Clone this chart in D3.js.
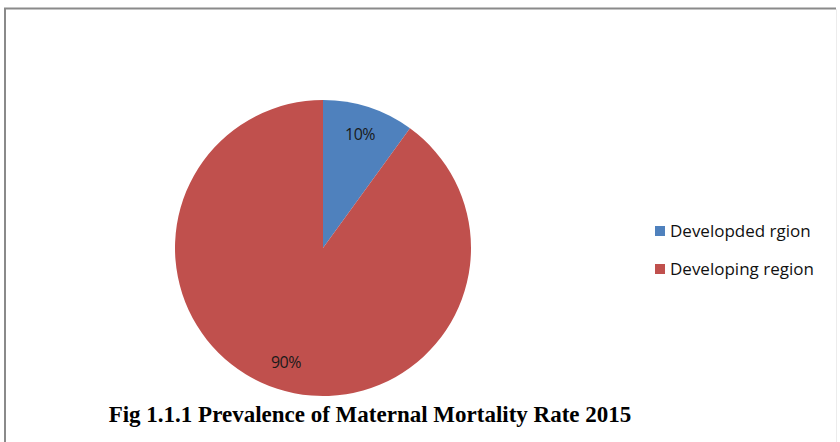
<!DOCTYPE html>
<html>
<head>
<meta charset="utf-8">
<script src="https://cdn.jsdelivr.net/npm/d3@7"></script>
<style>
body { margin: 0; background: #fff; }
</style>
</head>
<body>
<script>
// data
var regions = ["Developded rgion", "Developing region"];
var shares = [10, 90];
var labels = ["10%", "90%"];
var colors = ["#4f81bd", "#c0504d"];

var w = 840;
var h = 442;
var cx = 323, cy = 248, r = 148;

var svg = d3.select("body")
.append("svg")
.attr("width", w)
.attr("height", h);

// frame: darker top / left, very faint right
svg.append("path")
.attr("d", "M5,442 L5,8.5 L836,8.5")
.attr("fill", "none")
.attr("stroke", "#8a8a8a")
.attr("stroke-width", 2);
svg.append("line")
.attr("x1", 836.5).attr("x2", 836.5)
.attr("y1", 9).attr("y2", 442)
.attr("stroke", "#ececec")
.attr("stroke-width", 1);

var ds = regions.map(function(d, i) {
  return {name: d, value: shares[i], label: labels[i], color: colors[i]};
});

var pie = d3.pie()
.sort(null)
.value(function(d) { return d.value; });

var arc = d3.arc().innerRadius(0).outerRadius(r);
var labelArc = d3.arc().innerRadius(r * 0.81).outerRadius(r * 0.81);

var g = svg.append("g")
.attr("transform", "translate(" + cx + "," + cy + ")");

var slices = pie(ds);

g.selectAll("path")
.data(slices)
.enter()
.append("path")
.attr("d", arc)
.attr("fill", function(d) { return d.data.color; });

g.selectAll("text")
.data(slices)
.enter()
.append("text")
.text(function(d) { return d.data.label; })
.attr("text-anchor", "middle")
.attr("x", function(d) { return labelArc.centroid(d)[0]; })
.attr("y", function(d) { return labelArc.centroid(d)[1] + 6; })
.attr("font-family", "'Open Sans', sans-serif")
.attr("font-size", "16px")
.attr("letter-spacing", "-0.5px")
.attr("fill", "#1a1a1a");

// legend
var legend = svg.selectAll(".leg")
.data(ds)
.enter()
.append("g")
.attr("class", "leg")
.attr("transform", function(d, i) {
  return "translate(655," + (226 + i * 38) + ")";
});

legend.append("rect")
.attr("width", 10)
.attr("height", 10)
.attr("fill", function(d) { return d.color; });

legend.append("text")
.text(function(d) { return d.name; })
.attr("x", 15)
.attr("y", 11)
.attr("font-family", "'Open Sans', sans-serif")
.attr("font-size", "17px")
.attr("fill", "#111");

// caption
svg.append("text")
.text("Fig 1.1.1 Prevalence of Maternal Mortality Rate 2015")
.attr("x", 370)
.attr("y", 422)
.attr("text-anchor", "middle")
.attr("font-family", "'Liberation Serif', 'Times New Roman', serif")
.attr("font-weight", "bold")
.attr("font-size", "23px")
.attr("fill", "#000");
</script>
</body>
</html>
